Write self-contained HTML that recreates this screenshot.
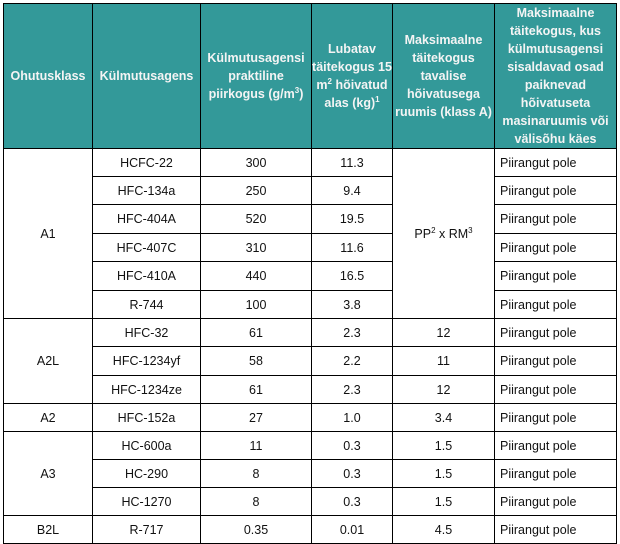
<!DOCTYPE html>
<html><head><meta charset="utf-8"><style>
body{margin:0;width:620px;height:543px;background:#fff;overflow:hidden}
table{position:absolute;left:3px;top:3px;border-collapse:collapse;table-layout:fixed;font-family:"Liberation Sans",Arial,sans-serif;font-size:12.5px;color:#111}
td,th{border:1px solid #000;padding:0;text-align:center;vertical-align:middle}
th{background:#339999;color:#f4f4f4;font-weight:bold;line-height:18px;font-size:12.5px}
td.l{text-align:left;padding-left:5px}
sup{font-size:8px;line-height:0}
</style></head><body>
<table>
<colgroup><col style="width:89px"><col style="width:108px"><col style="width:111px"><col style="width:81px"><col style="width:102px"><col style="width:122px"></colgroup>
<tr style="height:143px">
<th>Ohutusklass</th>
<th>Külmutusagens</th>
<th>Külmutusagensi praktiline piirkogus (g/m<sup>3</sup>)</th>
<th>Lubatav täitekogus 15 m<sup>2</sup> hõivatud alas (kg)<sup>1</sup></th>
<th>Maksimaalne täitekogus tavalise hõivatusega ruumis (klass A)</th>
<th>Maksimaalne täitekogus, kus külmutusagensi sisaldavad osad paiknevad hõivatuseta masinaruumis või välisõhu käes</th>
</tr>
<tr style="height:28px"><td rowspan="6">A1</td><td>HCFC-22</td><td>300</td><td>11.3</td><td rowspan="6">PP<sup>2</sup> x RM<sup>3</sup></td><td class="l">Piirangut pole</td></tr>
<tr style="height:28px"><td>HFC-134a</td><td>250</td><td>9.4</td><td class="l">Piirangut pole</td></tr>
<tr style="height:29px"><td>HFC-404A</td><td>520</td><td>19.5</td><td class="l">Piirangut pole</td></tr>
<tr style="height:28px"><td>HFC-407C</td><td>310</td><td>11.6</td><td class="l">Piirangut pole</td></tr>
<tr style="height:29px"><td>HFC-410A</td><td>440</td><td>16.5</td><td class="l">Piirangut pole</td></tr>
<tr style="height:28px"><td>R-744</td><td>100</td><td>3.8</td><td class="l">Piirangut pole</td></tr>
<tr style="height:28px"><td rowspan="3">A2L</td><td>HFC-32</td><td>61</td><td>2.3</td><td>12</td><td class="l">Piirangut pole</td></tr>
<tr style="height:29px"><td>HFC-1234yf</td><td>58</td><td>2.2</td><td>11</td><td class="l">Piirangut pole</td></tr>
<tr style="height:28px"><td>HFC-1234ze</td><td>61</td><td>2.3</td><td>12</td><td class="l">Piirangut pole</td></tr>
<tr style="height:28px"><td>A2</td><td>HFC-152a</td><td>27</td><td>1.0</td><td>3.4</td><td class="l">Piirangut pole</td></tr>
<tr style="height:28px"><td rowspan="3">A3</td><td>HC-600a</td><td>11</td><td>0.3</td><td>1.5</td><td class="l">Piirangut pole</td></tr>
<tr style="height:28px"><td>HC-290</td><td>8</td><td>0.3</td><td>1.5</td><td class="l">Piirangut pole</td></tr>
<tr style="height:28px"><td>HC-1270</td><td>8</td><td>0.3</td><td>1.5</td><td class="l">Piirangut pole</td></tr>
<tr style="height:28px"><td>B2L</td><td>R-717</td><td>0.35</td><td>0.01</td><td>4.5</td><td class="l">Piirangut pole</td></tr>
</table>
</body></html>
